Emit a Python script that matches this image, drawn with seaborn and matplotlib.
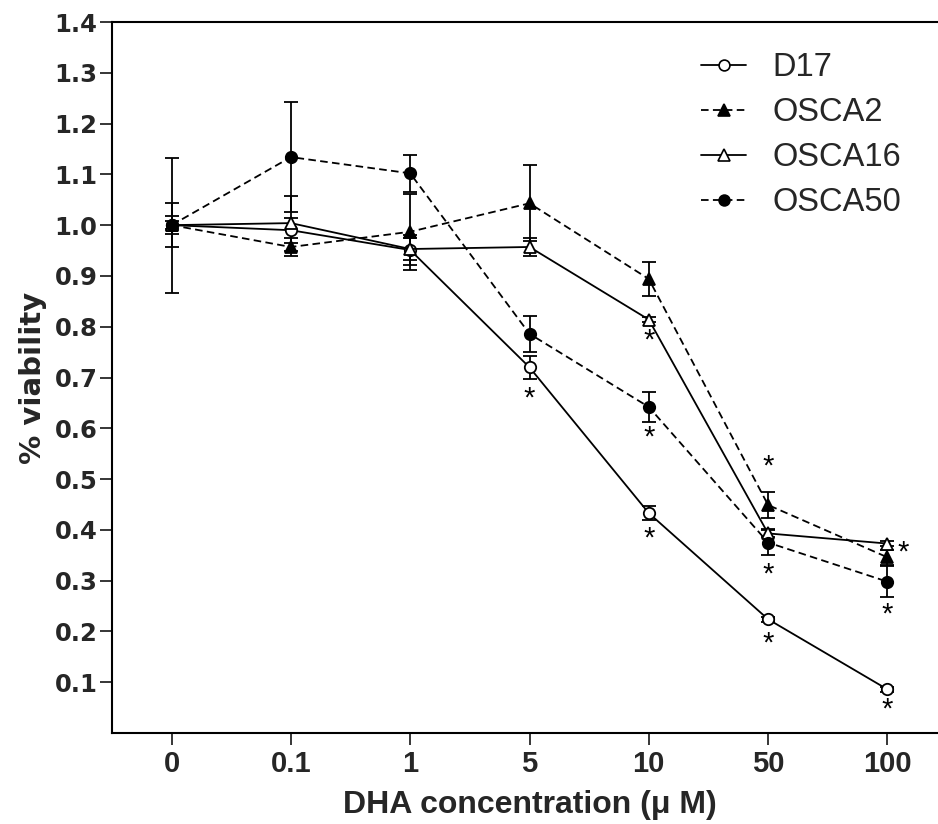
import matplotlib
matplotlib.use("Agg")
import matplotlib.pyplot as plt
from matplotlib.legend_handler import HandlerLine2D
from matplotlib.lines import Line2D
import numpy as np
import seaborn as sns

# DHA concentrations (µM) shown as evenly spaced categories
concentrations = ["0", "0.1", "1", "5", "10", "50", "100"]

# Mean viability (fraction of control) per cell line
d17 = [1.000, 0.990, 0.951, 0.720, 0.433, 0.224, 0.086]
osca2 = [1.000, 0.957, 0.987, 1.043, 0.894, 0.449, 0.346]
osca16 = [1.000, 1.004, 0.953, 0.957, 0.814, 0.393, 0.373]
osca50 = [1.000, 1.134, 1.102, 0.786, 0.642, 0.375, 0.298]

# Error (± SEM)
d17_err = [0.018, 0.025, 0.030, 0.023, 0.013, 0.005, 0.005]
osca2_err = [0.043, 0.018, 0.075, 0.075, 0.033, 0.026, 0.015]
osca16_err = [0.008, 0.054, 0.022, 0.018, 0.005, 0.008, 0.005]
osca50_err = [0.133, 0.109, 0.036, 0.035, 0.030, 0.025, 0.030]

# Significant points: (concentration index, where the star goes, offset in px)
d17_sig = [(3, "below", 23), (4, "below", 17), (5, "below", 16), (6, "below", 12)]
osca2_sig = [(5, "above", 47)]
osca16_sig = [(4, "below", 12), (6, "right", 16)]
osca50_sig = [(4, "below", 22), (5, "below", 23), (6, "below", 24)]

y_ticks = [0.1, 0.2, 0.3, 0.4, 0.5, 0.6, 0.7, 0.8, 0.9, 1.0, 1.1, 1.2, 1.3, 1.4]

sns.set_style("ticks")

DASH = (0, (4.2, 2.4))
series = [
    ("D17", d17, d17_err, d17_sig, "o", "white", "-"),
    ("OSCA2", osca2, osca2_err, osca2_sig, "^", "black", DASH),
    ("OSCA16", osca16, osca16_err, osca16_sig, "^", "white", "-"),
    ("OSCA50", osca50, osca50_err, osca50_sig, "o", "black", DASH),
]

W, H = 938, 824
fig = plt.figure(figsize=(W / 100, H / 100), dpi=100)
ax = fig.add_axes([112 / W, 91 / H, (947 - 112) / W, (733 - 22) / H])

xpos = np.arange(len(concentrations))
LW = 1.3
handles = []
for name, vals, errs, sig, mk, face, ls in series:
    ms = 8.8 if mk == "^" else 8.2
    ax.errorbar(xpos, vals, yerr=errs, fmt="none", ecolor="black",
                elinewidth=LW, capsize=5.2, capthick=LW, zorder=2)
    sns.lineplot(x=xpos, y=vals, ax=ax, color="black", linewidth=LW,
                 linestyle=ls, marker=mk, markersize=ms,
                 markerfacecolor=face, markeredgecolor="black",
                 markeredgewidth=1.3, errorbar=None, legend=False, zorder=3)
    handles.append(Line2D([], [], color="black", linewidth=LW, linestyle=ls,
                          marker=mk, markersize=ms * 0.95,
                          markerfacecolor=face, markeredgecolor="black",
                          markeredgewidth=1.2, label=name))
    # significance stars
    for i, where, off in sig:
        fs = 21
        center_up = 0.57 * fs / 0.72  # glyph centre above baseline, px
        if where == "below":
            dx, dy = 0, -(off + center_up)
        elif where == "above":
            dx, dy = 0, off - center_up
        else:
            dx, dy = off, -center_up
        ax.annotate("*", xy=(xpos[i], vals[i]), xytext=(dx * 0.72, dy * 0.72),
                    textcoords="offset points", ha="center", va="baseline",
                    fontsize=fs, family="Liberation Sans", color="black",
                    zorder=4)

ax.set_xlim(-0.5, len(concentrations) - 0.5)
ax.set_ylim(0, 1.4)
ax.set_xticks(xpos)
ax.set_xticklabels(concentrations, family="Liberation Sans",
                   fontweight="bold", fontsize=21)
ax.set_yticks(y_ticks)
ax.set_yticklabels([f"{t:.1f}" for t in y_ticks], family="DejaVu Sans",
                   fontweight="bold", fontsize=17.5)
ax.tick_params(axis="both", direction="out", length=8.6, width=1.1,
               color="black")
ax.tick_params(axis="x", pad=3.5)
ax.tick_params(axis="y", pad=2)
for side in ["left", "bottom", "top", "right"]:
    ax.spines[side].set_linewidth(1.5)
    ax.spines[side].set_color("black")

ax.set_xlabel("DHA concentration (\u03bc M)", family="Liberation Sans",
              fontweight="bold", fontsize=23, labelpad=9)
ax.set_ylabel("% viability", family="DejaVu Sans", fontweight="bold",
              fontsize=21, labelpad=5)


class EndMarkerHandler(HandlerLine2D):
    """Legend line with the marker sitting at the right end."""

    def get_xdata(self, legend, xdescent, ydescent, width, height, fontsize):
        xdata = np.array([-xdescent, -xdescent + width])
        return xdata, np.array([-xdescent + width - 6])


leg = ax.legend(handles=handles, loc="upper left",
                bbox_to_anchor=(701 / W, 1 - 52 / H),
                bbox_transform=fig.transFigure, frameon=False,
                prop={"family": "Liberation Sans", "size": 23.5},
                handlelength=1.38, handletextpad=0.8, labelspacing=0.43,
                borderpad=0, borderaxespad=0,
                handler_map={Line2D: EndMarkerHandler()})

fig.savefig("out.png", dpi=100, facecolor="white")
